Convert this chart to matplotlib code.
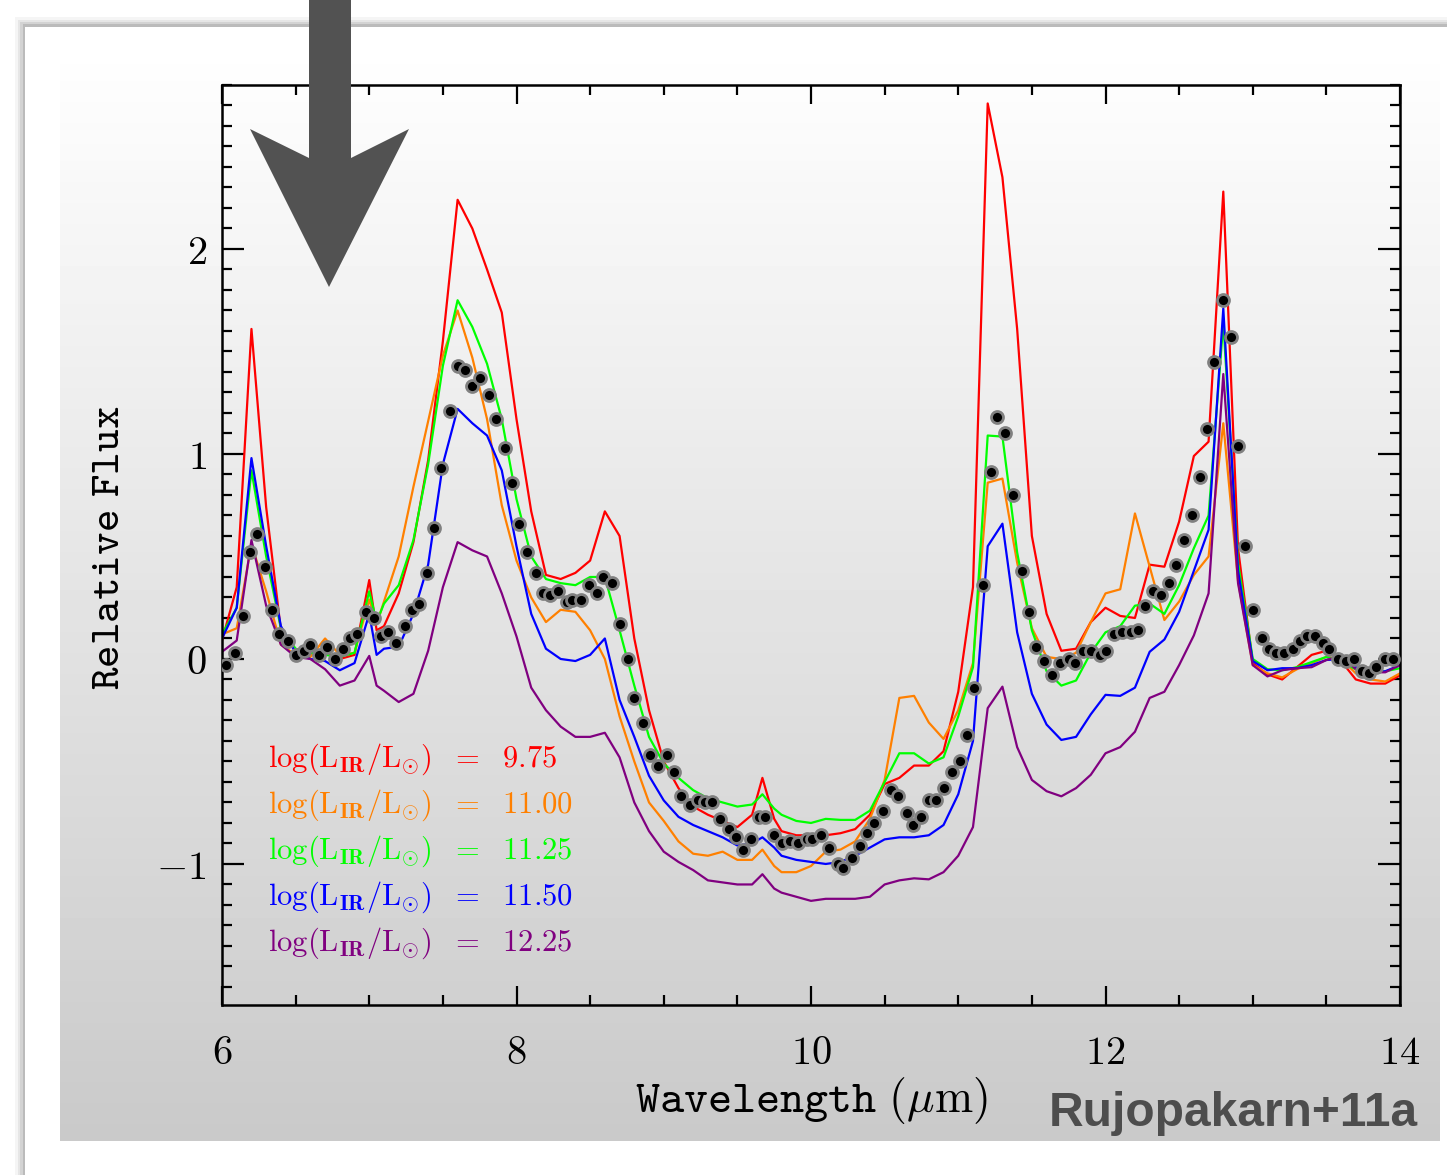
import numpy as np
import matplotlib.pyplot as plt
from matplotlib.patches import Polygon, Rectangle
from matplotlib.ticker import MultipleLocator

plt.rcParams['mathtext.fontset'] = 'cm'

# model template grid (micron)
wave = [6.0, 6.1, 6.2, 6.3, 6.4, 6.5, 6.6, 6.7, 6.8, 6.9,
        7.0, 7.05, 7.1, 7.2, 7.3, 7.4, 7.5, 7.6, 7.7, 7.8, 7.9,
        8.0, 8.1, 8.2, 8.3, 8.4, 8.5, 8.6, 8.7, 8.8, 8.9,
        9.0, 9.1, 9.2, 9.3, 9.4, 9.5, 9.6, 9.67, 9.75, 9.8, 9.9,
        10.0, 10.1, 10.2, 10.3, 10.4, 10.5, 10.6, 10.7, 10.8, 10.9,
        11.0, 11.1, 11.2, 11.3, 11.4, 11.5, 11.6, 11.7, 11.8, 11.9,
        12.0, 12.1, 12.2, 12.3, 12.4, 12.5, 12.6, 12.7, 12.8, 12.9,
        13.0, 13.1, 13.2, 13.3, 13.4, 13.5, 13.6, 13.7, 13.8, 13.9,
        14.0]

flux_975 = [0.09, 0.35, 1.61, 0.74, 0.14, 0.04, 0.03, 0.03, 0.00, 0.02,
            0.385, 0.14, 0.16, 0.32, 0.57, 0.97, 1.55, 2.24, 2.10, 1.90, 1.69,
            1.17, 0.72, 0.41, 0.39, 0.42, 0.48, 0.72, 0.60, 0.10, -0.25,
            -0.50, -0.63, -0.72, -0.76, -0.79, -0.82, -0.76, -0.58, -0.78, -0.84, -0.86,
            -0.86, -0.86, -0.85, -0.83, -0.76, -0.61, -0.58, -0.52, -0.52, -0.45,
            -0.16, 0.35, 2.71, 2.35, 1.61, 0.60, 0.22, 0.04, 0.05, 0.18,
            0.25, 0.21, 0.20, 0.46, 0.45, 0.67, 0.99, 1.06, 2.28, 0.54,
            -0.02, -0.075, -0.10, -0.04, 0.02, 0.04, -0.01, -0.10, -0.12, -0.12,
            -0.08]

flux_1100 = [0.12, 0.15, 0.56, 0.33, 0.07, 0.02, 0.01, 0.10, 0.02, 0.03,
             0.29, 0.17, 0.28, 0.50, 0.84, 1.16, 1.48, 1.70, 1.47, 1.17, 0.75,
             0.48, 0.30, 0.18, 0.24, 0.23, 0.14, 0.00, -0.28, -0.50, -0.70,
             -0.79, -0.89, -0.95, -0.96, -0.94, -0.98, -0.98, -0.93, -1.01, -1.04, -1.04,
             -1.01, -0.94, -0.93, -0.89, -0.78, -0.59, -0.19, -0.18, -0.31, -0.39,
             -0.25, -0.02, 0.86, 0.88, 0.47, 0.15, 0.01, 0.00, 0.03, 0.18,
             0.32, 0.34, 0.71, 0.45, 0.19, 0.28, 0.41, 0.50, 1.15, 0.38,
             -0.03, -0.07, -0.09, -0.05, -0.02, 0.01, 0.00, -0.07, -0.10, -0.11,
             -0.07]

flux_1125 = [0.12, 0.25, 0.92, 0.50, 0.15, 0.05, 0.03, 0.02, 0.01, 0.03,
             0.33, 0.18, 0.27, 0.36, 0.58, 0.95, 1.43, 1.75, 1.62, 1.44, 1.17,
             0.78, 0.50, 0.39, 0.37, 0.36, 0.40, 0.40, 0.14, -0.13, -0.38,
             -0.51, -0.58, -0.64, -0.68, -0.70, -0.72, -0.71, -0.66, -0.73, -0.76, -0.79,
             -0.80, -0.78, -0.785, -0.785, -0.74, -0.60, -0.46, -0.46, -0.51, -0.48,
             -0.28, -0.04, 1.09, 1.085, 0.52, 0.14, -0.06, -0.13, -0.105, 0.03,
             0.13, 0.16, 0.26, 0.27, 0.22, 0.36, 0.54, 0.70, 1.64, 0.47,
             0.00, -0.05, -0.055, -0.04, -0.015, 0.01, -0.015, -0.05, -0.07, -0.06,
             -0.045]

flux_1150 = [0.10, 0.25, 0.98, 0.55, 0.16, 0.03, 0.00, -0.01, -0.055, -0.02,
             0.22, 0.02, 0.05, 0.06, 0.22, 0.46, 0.95, 1.22, 1.15, 1.09, 0.92,
             0.55, 0.22, 0.05, 0.00, -0.01, 0.02, 0.10, -0.20, -0.38, -0.57,
             -0.69, -0.77, -0.81, -0.84, -0.87, -0.91, -0.90, -0.87, -0.92, -0.96, -0.98,
             -0.99, -1.00, -0.99, -0.96, -0.92, -0.88, -0.87, -0.87, -0.86, -0.81,
             -0.66, -0.40, 0.55, 0.66, 0.13, -0.17, -0.32, -0.395, -0.38, -0.27,
             -0.175, -0.18, -0.14, 0.035, 0.095, 0.23, 0.43, 0.63, 1.71, 0.43,
             -0.01, -0.055, -0.045, -0.045, -0.03, -0.005, 0.00, -0.04, -0.065, -0.06,
             -0.03]

flux_1225 = [0.035, 0.09, 0.58, 0.26, 0.07, 0.01, 0.00, -0.05, -0.13, -0.105,
             0.015, -0.13, -0.155, -0.21, -0.17, 0.04, 0.35, 0.57, 0.53, 0.50, 0.32,
             0.11, -0.14, -0.25, -0.33, -0.38, -0.38, -0.36, -0.48, -0.70, -0.84,
             -0.94, -0.99, -1.03, -1.08, -1.09, -1.10, -1.10, -1.05, -1.12, -1.14, -1.16,
             -1.18, -1.17, -1.17, -1.17, -1.16, -1.10, -1.08, -1.07, -1.075, -1.04,
             -0.96, -0.82, -0.24, -0.135, -0.43, -0.59, -0.645, -0.67, -0.63, -0.565,
             -0.46, -0.43, -0.355, -0.19, -0.16, -0.03, 0.115, 0.32, 1.39, 0.37,
             -0.03, -0.085, -0.055, -0.045, -0.04, -0.005, 0.015, -0.05, -0.065, -0.065,
             -0.03]

# observed spectrum (dots)
dot_wave = [6.03, 6.09, 6.14, 6.19, 6.24, 6.29, 6.34, 6.39, 6.45, 6.50,
            6.56, 6.60, 6.66, 6.71, 6.77, 6.82, 6.87, 6.92, 6.98, 7.03,
            7.08, 7.13, 7.18, 7.24, 7.29, 7.34, 7.39, 7.44, 7.49, 7.55,
            7.60, 7.65, 7.70, 7.75, 7.81, 7.86, 7.92, 7.97, 8.02, 8.07,
            8.13, 8.18, 8.23, 8.28, 8.34, 8.38, 8.44, 8.49, 8.55, 8.59,
            8.65, 8.70, 8.76, 8.80, 8.86, 8.91, 8.96, 9.02, 9.07, 9.12,
            9.18, 9.23, 9.28, 9.33, 9.38, 9.44, 9.49, 9.54, 9.59, 9.65,
            9.69, 9.75, 9.80, 9.86, 9.91, 9.97, 10.01, 10.07, 10.12, 10.18,
            10.22, 10.28, 10.33, 10.38, 10.43, 10.49, 10.54, 10.59, 10.65, 10.69,
            10.75, 10.80, 10.85, 10.90, 10.96, 11.01, 11.06, 11.11, 11.17, 11.22,
            11.26, 11.32, 11.37, 11.43, 11.48, 11.53, 11.58, 11.64, 11.69, 11.75,
            11.79, 11.85, 11.90, 11.96, 12.00, 12.06, 12.11, 12.17, 12.22, 12.27,
            12.32, 12.38, 12.43, 12.48, 12.53, 12.59, 12.64, 12.69, 12.74, 12.80,
            12.85, 12.90, 12.95, 13.00, 13.06, 13.11, 13.16, 13.21, 13.27, 13.32,
            13.37, 13.42, 13.48, 13.52, 13.58, 13.63, 13.69, 13.74, 13.79, 13.84,
            13.90, 13.95]
dot_flux = [-0.03, 0.03, 0.21, 0.52, 0.61, 0.45, 0.24, 0.12, 0.09, 0.02,
            0.04, 0.07, 0.02, 0.06, 0.00, 0.05, 0.10, 0.12, 0.23, 0.20,
            0.11, 0.13, 0.08, 0.16, 0.24, 0.27, 0.42, 0.64, 0.93, 1.21,
            1.43, 1.41, 1.33, 1.37, 1.29, 1.17, 1.03, 0.86, 0.66, 0.52,
            0.42, 0.32, 0.31, 0.33, 0.28, 0.29, 0.29, 0.36, 0.32, 0.40,
            0.37, 0.17, 0.00, -0.19, -0.31, -0.47, -0.52, -0.47, -0.55, -0.67,
            -0.71, -0.69, -0.70, -0.70, -0.78, -0.83, -0.87, -0.93, -0.88, -0.77,
            -0.77, -0.86, -0.90, -0.89, -0.90, -0.88, -0.88, -0.86, -0.92, -1.00,
            -1.02, -0.97, -0.91, -0.85, -0.80, -0.74, -0.64, -0.67, -0.75, -0.81,
            -0.77, -0.69, -0.69, -0.63, -0.55, -0.50, -0.37, -0.14, 0.36, 0.91,
            1.18, 1.10, 0.80, 0.43, 0.23, 0.06, -0.01, -0.08, -0.02, 0.00,
            -0.02, 0.04, 0.04, 0.02, 0.04, 0.12, 0.13, 0.13, 0.14, 0.26,
            0.33, 0.31, 0.37, 0.46, 0.58, 0.70, 0.89, 1.12, 1.45, 1.75,
            1.57, 1.04, 0.55, 0.24, 0.10, 0.05, 0.03, 0.03, 0.05, 0.09,
            0.11, 0.11, 0.08, 0.05, 0.00, -0.01, 0.00, -0.06, -0.07, -0.04,
            0.00, 0.00]

lir_labels = ['9.75', '11.00', '11.25', '11.50', '12.25']
models = [flux_975, flux_1100, flux_1125, flux_1150, flux_1225]
colors = ['#ff0000', '#ff8000', '#00ff00', '#0000ff', '#800080']

W, H = 1447, 1175
fig = plt.figure(figsize=(W / 100, H / 100), dpi=100)
fig.patch.set_facecolor('white')


def fx(px):
    return px / W


def fy(py):
    return 1 - py / H


# white card with a soft shadow
for i, a in enumerate([0.04, 0.06, 0.08, 0.11]):
    d = 10 - 2.5 * i
    fig.add_artist(Rectangle((fx(25 - d), fy(1175 + d)), fx(1447 + 2 * d), fy(27 - d) - fy(1175 + d),
                             transform=fig.transFigure, facecolor='black', alpha=a,
                             edgecolor='none', zorder=-10))
fig.add_artist(Rectangle((fx(25), 0), fx(1447), fy(27), transform=fig.transFigure,
                         facecolor='white', edgecolor='none', zorder=-9))

# gradient panel
ax_bg = fig.add_axes([fx(60), fy(1141), fx(1440) - fx(60), fy(64) - fy(1141)])
grad = np.linspace(0.995, 0.79, 256)[:, None]
ax_bg.imshow(grad, cmap='gray', vmin=0, vmax=1, aspect='auto', extent=[0, 1, 0, 1])
ax_bg.axis('off')
ax_bg.set_zorder(-5)

# main plot
ax = fig.add_axes([fx(222), fy(1005), fx(1400) - fx(222), fy(85) - fy(1005)])
ax.set_facecolor('none')
ax.set_zorder(1)

for flux, c in zip(models, colors):
    ax.plot(wave, flux, color=c, lw=1.6, zorder=2)
ax.plot(dot_wave, dot_flux, 'o', ms=8.6, mfc='black', mec='#808080', mew=2.0,
        zorder=3, linestyle='none')

ax.set_xlim(6, 14)
ax.set_ylim(-1.688, 2.80)
ax.set_xticks([6, 8, 10, 12, 14])
ax.set_xticklabels([r'$6$', r'$8$', r'$10$', r'$12$', r'$14$'], fontsize=29)
ax.set_yticks([-1, 0, 1, 2])
ax.set_yticklabels([r'$-1$', r'$0$', r'$1$', r'$2$'], fontsize=29)
ax.xaxis.set_minor_locator(MultipleLocator(0.5))
ax.yaxis.set_minor_locator(MultipleLocator(0.1))
ax.tick_params(which='both', direction='in', top=True, right=True, width=1.6, color='black')
ax.xaxis.set_tick_params(which='major', length=14, pad=20)
ax.yaxis.set_tick_params(which='major', length=16, pad=11)
ax.tick_params(which='minor', length=7.5)
for s in ax.spines.values():
    s.set_linewidth(1.8)

# legend-like annotations
for i, (lab, c) in enumerate(zip(lir_labels, colors)):
    ax.text(6.31, -0.527 - i * 0.224,
            r'$\mathrm{log(L_{\mathbf{IR}}/L_{\odot})\ \ =\ \ %s}$' % lab,
            color=c, fontsize=22, va='baseline', ha='left')

fig.text(fx(811), fy(1100), r'$\mathtt{Wavelength}\ (\mu\mathrm{m})$',
         fontsize=33, ha='center', va='center')
fig.text(fx(107), fy(548), r'$\mathtt{Relative\ Flux}$', fontsize=31,
         rotation=90, ha='center', va='center')
fig.text(fx(1418), fy(1113), 'Rujopakarn+11a', ha='right', va='center', fontsize=34.5,
         fontweight='bold', color='#4d4d4d', family='Liberation Sans')

# big arrow
arrow = [(309, 0), (309, 158), (250, 129), (329, 287), (409, 129), (351, 158), (351, 0)]
fig.add_artist(Polygon([(fx(x), fy(y)) for x, y in arrow], closed=True,
                       transform=fig.transFigure, facecolor='#525252',
                       edgecolor='none', zorder=10))

fig.savefig('out.png', dpi=100)
